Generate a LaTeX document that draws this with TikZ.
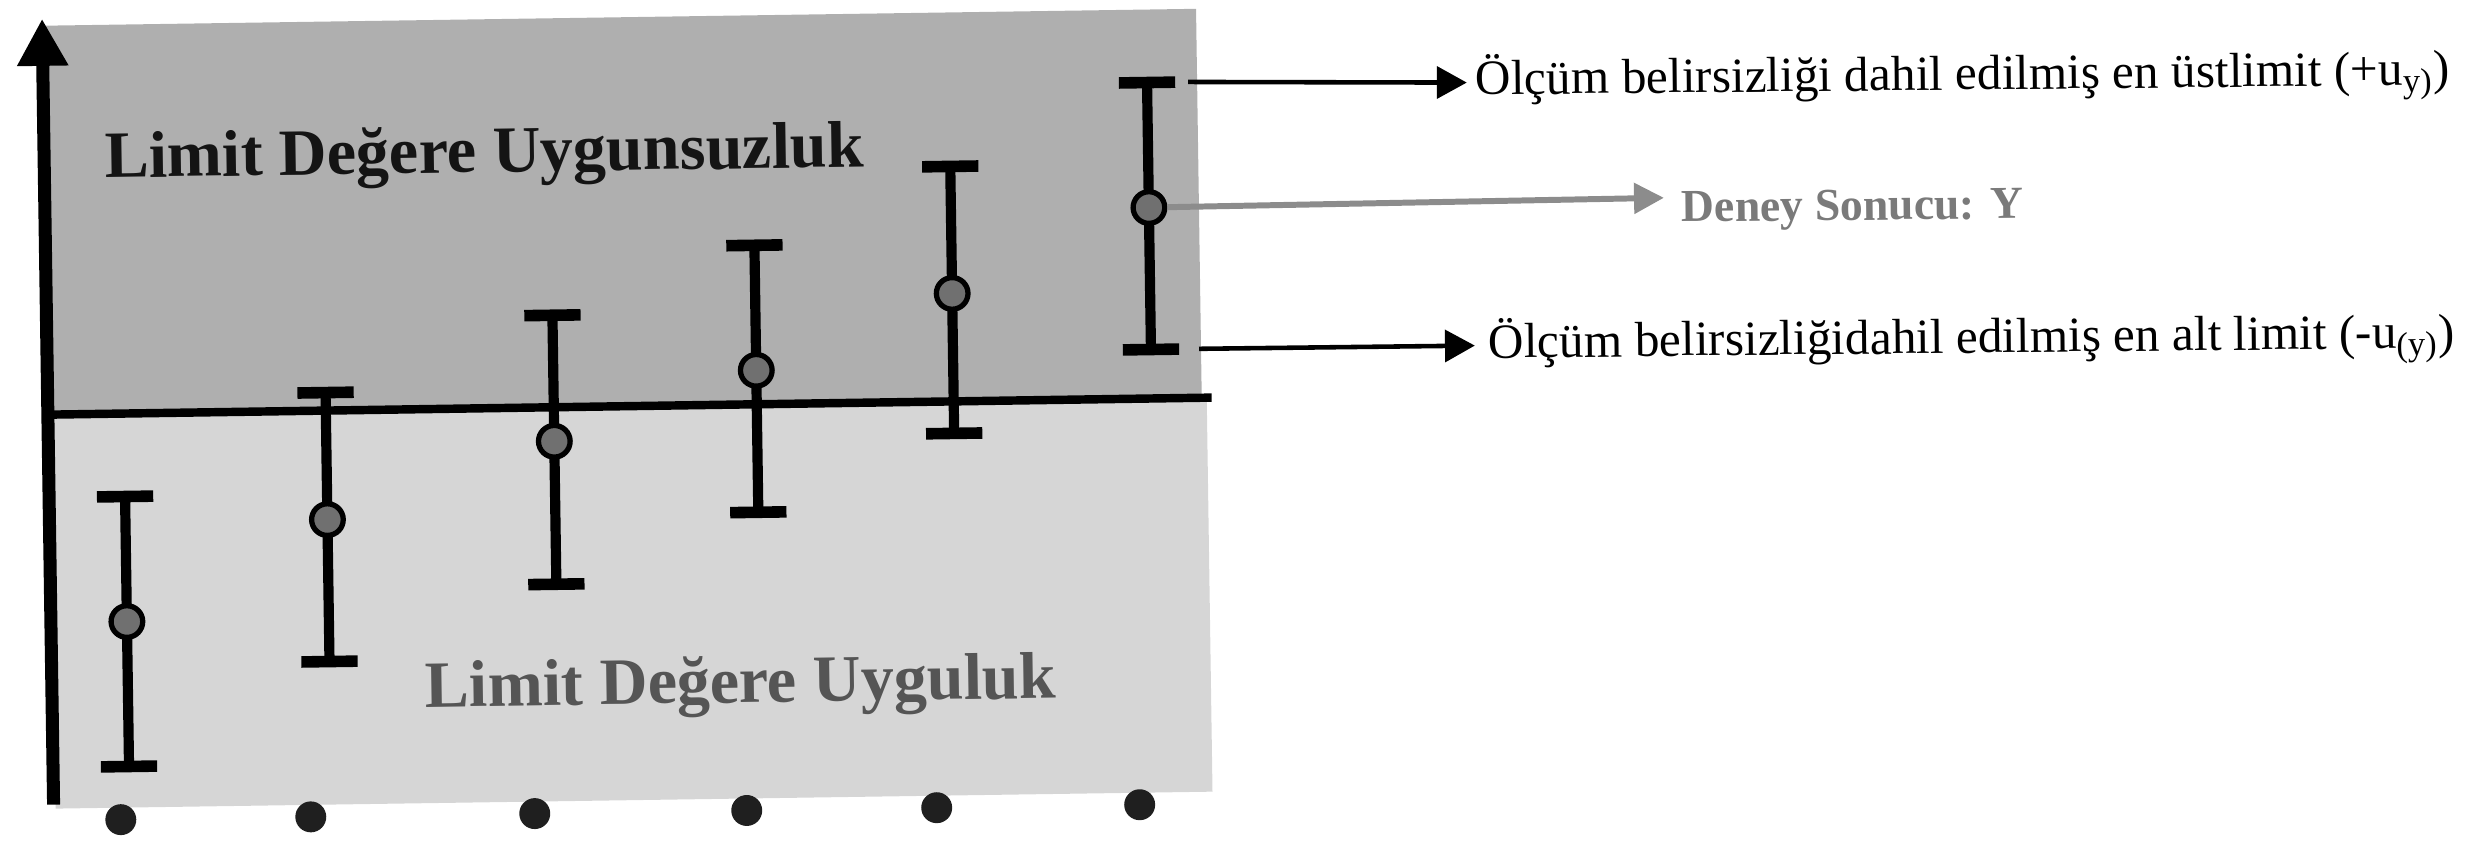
\documentclass[tikz,border=0pt]{standalone}
\usepackage{fontspec}
\setmainfont{Liberation Serif}
\usetikzlibrary{arrows.meta}
\definecolor{upgray}{HTML}{AFAFAF}
\definecolor{lowgray}{HTML}{D6D6D6}
\definecolor{dotgray}{HTML}{707070}
\definecolor{labgray}{HTML}{555555}
\definecolor{arrgray}{HTML}{8C8C8C}
\definecolor{deneygray}{HTML}{7A7A7A}
\begin{document}
\begin{tikzpicture}[x=0.01cm,y=-0.01cm,
  bar/.style={line width=2.9pt},
  capline/.style={line width=3.3pt},
  meandot/.style={circle,draw=black,line width=1.5pt,fill=dotgray,minimum size=9pt,inner sep=0pt},
  xdot/.style={circle,fill=black!88,minimum size=8.8pt,inner sep=0pt},
  zonelabel/.style={font=\fontsize{18.8}{22}\selectfont\bfseries,inner sep=0pt,anchor=base west},
  annot/.style={font=\fontsize{14}{16}\selectfont,inner sep=0pt,anchor=base west,rotate=0.6},
  blackarrow/.style={line width=1.3pt,-{Triangle[length=8.5pt,width=9pt]}},
  grayarrow/.style={draw=arrgray,line width=1.7pt,-{Triangle[length=8.5pt,width=8.5pt]}}
]
\useasboundingbox (0,0) rectangle (2492,848);
\begin{scope}[rotate around={0.84:(640,420)}, transform shape]
  \fill[upgray] (50,17) rectangle (1202,406);
  \fill[lowgray] (50,406) rectangle (1207,800);
  \coordinate (hl) at (50,406);
  \coordinate (hr) at (1212,406);
  \draw[line width=2.4pt] (hl) -- (hr);
  \coordinate (ax0) at (48,796);
  \coordinate (ax1) at (48,10);
  \draw[line width=3.7pt,-{Triangle[length=13.4pt,width=13.7pt]}] (ax0) -- (ax1);
  \foreach \i/\u/\t/\d/\b in {1/124/489/614/759, 2/326/388/515/657, 3/554/314/440/583, 4/757/247/372/514, 5/954/171/298/438, 6/1152/90/215/357}{
    \coordinate (top\i) at (\u,\t);
    \coordinate (bot\i) at (\u,\b);
    \draw[bar] (top\i) -- (bot\i);
    \draw[capline] ([xshift=-8pt]top\i) -- ([xshift=8pt]top\i);
    \draw[capline] ([xshift=-8pt]bot\i) -- ([xshift=8pt]bot\i);
    \node[meandot] (m\i) at (\u,\d) {};
  }
  \foreach \i/\u in {1/115,2/305,3/529,4/741,5/931,6/1134}{
    \node[xdot] (x\i) at (\u,812) {};
  }
  \node[zonelabel,text=black!92] (upper) at (108,170) {Limit Değere Uygunsuzluk};
  \node[zonelabel,text=labgray] (lower) at (421,704) {Limit Değere Uyguluk};
  \coordinate (s1) at (1193,90);
  \coordinate (s3) at (1200,357);
\end{scope}
\node[annot] (txt1) at (1475,95) {Ölçüm belirsizliği dahil edilmiş en üstlimit (+u\textsubscript{y)})};
\node[annot,font=\fontsize{13}{15}\selectfont\bfseries,text=deneygray] (txt2) at (1681,222) {Deney Sonucu: Y};
\node[annot] (txt3) at (1488,358) {Ölçüm belirsizliğidahil edilmiş en alt limit (-u\textsubscript{(y)})};
\draw[blackarrow] (s1) -- ([xshift=-2.3pt]txt1.west);
\draw[grayarrow] (m6) -- ([shift={(-17,-14)}]txt2.west);
\draw[blackarrow] (s3) -- ([xshift=-3.7pt]txt3.west);
\end{tikzpicture}
\end{document}
